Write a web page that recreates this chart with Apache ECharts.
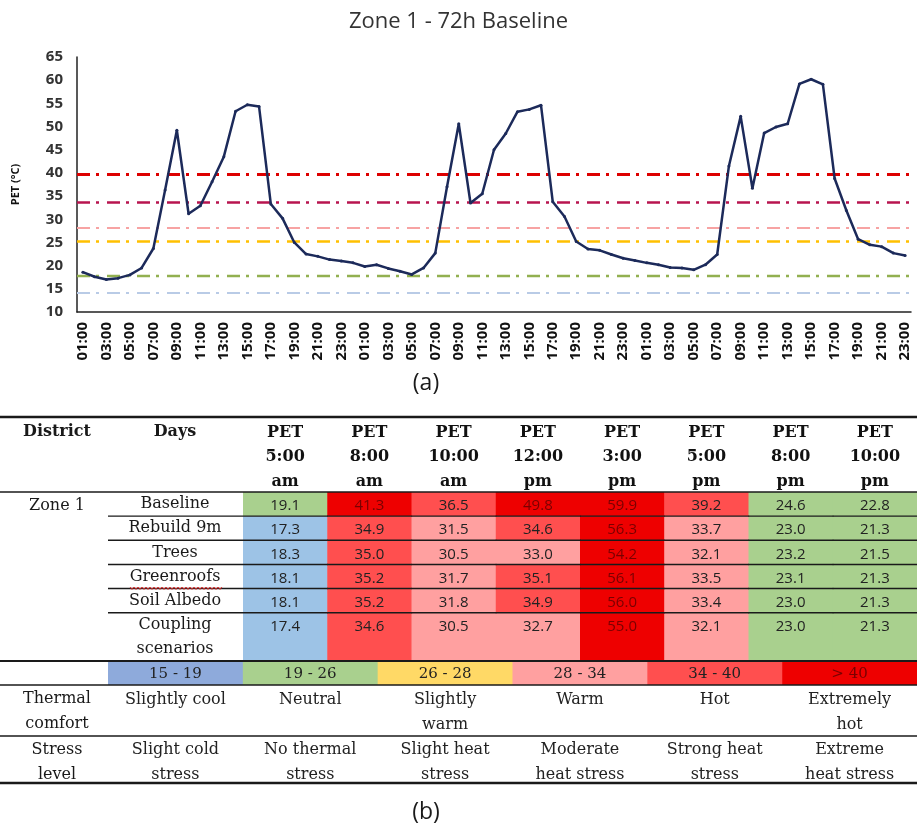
<!DOCTYPE html>
<html>
<head>
<meta charset="utf-8">
<title>Zone 1 - 72h Baseline</title>
<script src="https://cdn.jsdelivr.net/npm/echarts@6/dist/echarts.min.js"></script>
<style>
  html, body { margin: 0; padding: 0; background: #fff; }
  #chart { width: 917px; height: 828px; }
</style>
</head>
<body>
<div id="chart"></div>
<script>
// ---- data: hourly PET (°C), 72h baseline ----
const hours = ['01:00', '02:00', '03:00', '04:00', '05:00', '06:00', '07:00', '08:00',
  '09:00', '10:00', '11:00', '12:00', '13:00', '14:00', '15:00', '16:00', '17:00', '18:00',
  '19:00', '20:00', '21:00', '22:00', '23:00', '24:00'];
const times = hours.concat(hours, hours).slice(0, 71);

const pet = [
  18.6, 17.6, 17.0, 17.3, 18.0, 19.5, 23.7, 36.3, 49.2, 31.2, 32.9, 38.1, 43.5, 53.3, 54.7, 54.3,
  33.3, 30.2, 25.0, 22.5, 22.0, 21.3, 21.0, 20.6,
  19.8, 20.2, 19.4, 18.8, 18.1, 19.5, 22.7, 37.0, 50.6, 33.5, 35.5, 45.0, 48.5, 53.2, 53.7, 54.6,
  33.8, 30.6, 25.2, 23.6, 23.3, 22.4, 21.6, 21.1,
  20.6, 20.2, 19.6, 19.5, 19.1, 20.2, 22.4, 41.5, 52.2, 36.7, 48.6, 49.9, 50.6, 59.2, 60.2, 59.1,
  38.8, 31.9, 25.7, 24.5, 24.1, 22.7, 22.2
];

// comfort thresholds drawn as dash-dot lines
const thresholds = [39.8, 33.7, 28.1, 25.3, 17.9, 14.1];

// ---- data: table (b) ----
const district = 'Zone 1';
const petTimes = ['PET\n5:00\nam', 'PET\n8:00\nam', 'PET\n10:00\nam', 'PET\n12:00\npm',
  'PET\n3:00\npm', 'PET\n5:00\npm', 'PET\n8:00\npm', 'PET\n10:00\npm'];
const scenarios = ['Baseline', 'Rebuild 9m', 'Trees', 'Greenroofs', 'Soil Albedo', 'Coupling scenarios'];
const baseline   = [19.1, 41.3, 36.5, 49.8, 59.9, 39.2, 24.6, 22.8];
const rebuild9m  = [17.3, 34.9, 31.5, 34.6, 56.3, 33.7, 23.0, 21.3];
const trees      = [18.3, 35.0, 30.5, 33.0, 54.2, 32.1, 23.2, 21.5];
const greenroofs = [18.1, 35.2, 31.7, 35.1, 56.1, 33.5, 23.1, 21.3];
const soilAlbedo = [18.1, 35.2, 31.8, 34.9, 56.0, 33.4, 23.0, 21.3];
const coupling   = [17.4, 34.6, 30.5, 32.7, 55.0, 32.1, 23.0, 21.3];
const tableRows = [baseline, rebuild9m, trees, greenroofs, soilAlbedo, coupling];

const binEdges = [15, 19, 26, 28, 34, 40];
const ranges = ['15 - 19', '19 - 26', '26 - 28', '28 - 34', '34 - 40', '> 40'];
const comfort = ['Slightly cool', 'Neutral', 'Slightly\nwarm', 'Warm', 'Hot', 'Extremely\nhot'];
const stress = ['Slight cold\nstress', 'No thermal\nstress', 'Slight heat\nstress',
  'Moderate\nheat stress', 'Strong heat\nstress', 'Extreme\nheat stress'];

// ---- styles / layout ----
const lineColor = '#1c2a5a';
const threshColors = ['#dd0000', '#b8144f', '#f7a3a3', '#ffc000', '#92b050', '#b9cbe6'];
const threshWidths = [3, 2.6, 2, 2.6, 2.4, 2];
const tableColors = ['#9dc3e6', '#a9d08e', '#ffd966', '#ffa0a0', '#ff4f4f', '#ee0000'];
const legendColors = ['#8eaadb', '#a9d08e', '#ffd966', '#ffa0a0', '#ff4f4f', '#ee0000'];
const serif = '"DejaVu Serif", serif';
const sans = '"Open Sans", sans-serif';

const W = 917;
const TABLE_TOP = 417, HEAD_BOTTOM = 492, BODY_BOTTOM = 661;
const LEGEND_BOTTOM = 685, COMFORT_BOTTOM = 736, TABLE_BOTTOM = 783;
const CELLS_LEFT = 243, DAYS_LEFT = 108, FIRST_COL_X = 57, DAYS_X = 175;

const tableData = [];
tableRows.forEach((vals, r) => vals.forEach((v, c) => tableData.push([c, r, v])));

const pieces = binEdges.map((lo, i) => {
  const p = { gte: lo, color: tableColors[i] };
  if (i < binEdges.length - 1) p.lt = binEdges[i + 1];
  return p;
});

function rule(y, w) {
  return { type: 'line', z: 100, shape: { x1: 0, y1: y, x2: W, y2: y },
    style: { stroke: '#1a1a1a', lineWidth: w } };
}
function label(text, x, y, font, valign) {
  return { type: 'text', z: 100, x: x, y: y,
    style: { text: text, font: font, fill: '#1a1a1a', align: 'center',
      verticalAlign: valign || 'middle', lineHeight: 25 } };
}
// red spell-check squiggle under a word of the table
function squiggle(x1, x2, y) {
  const pts = [];
  for (let x = x1, k = 0; x <= x2; x += 2, k++) pts.push([x, y + (k % 2 ? 1.5 : -1)]);
  return { type: 'polyline', z: 100, shape: { points: pts }, style: { stroke: '#e03030', lineWidth: 1, fill: null } };
}

const chart = echarts.init(document.getElementById('chart'));
chart.setOption({
  animation: false,
  backgroundColor: '#fff',
  title: {
    text: 'Zone 1 - 72h Baseline', left: 'center', top: 6,
    textStyle: { fontFamily: sans, fontSize: 22, fontWeight: 'normal', color: '#333' }
  },
  grid: [
    { left: 77, right: 6, top: 57, height: 255 },
    { left: CELLS_LEFT, right: 0, top: HEAD_BOTTOM, height: BODY_BOTTOM - HEAD_BOTTOM },
    { left: DAYS_LEFT, right: 0, top: BODY_BOTTOM, height: LEGEND_BOTTOM - BODY_BOTTOM }
  ],
  xAxis: [
    {
      gridIndex: 0, type: 'category', data: times, boundaryGap: true,
      axisLine: { lineStyle: { color: '#222', width: 1.5 } },
      axisTick: { show: false },
      axisLabel: { interval: 1, rotate: 90, margin: 10, fontFamily: sans, fontWeight: 'bold', fontSize: 15, color: '#111' }
    },
    {
      gridIndex: 1, type: 'category', position: 'top', data: petTimes,
      axisLine: { show: false }, axisTick: { show: false },
      axisLabel: { interval: 0, margin: -2, lineHeight: 24.5, fontFamily: serif, fontWeight: 'bold', fontSize: 16, color: '#111' }
    },
    { gridIndex: 2, type: 'category', data: ranges, show: false },
    {
      gridIndex: 2, type: 'category', position: 'bottom', data: comfort,
      axisLine: { show: false }, axisTick: { show: false },
      axisLabel: { interval: 0, margin: 2, lineHeight: 25, fontFamily: serif, fontSize: 16, color: '#222' }
    },
    {
      gridIndex: 2, type: 'category', position: 'bottom', offset: COMFORT_BOTTOM - LEGEND_BOTTOM, data: stress,
      axisLine: { show: false }, axisTick: { show: false },
      axisLabel: { interval: 0, margin: 1, lineHeight: 25, fontFamily: serif, fontSize: 16, color: '#222' }
    }
  ],
  yAxis: [
    {
      gridIndex: 0, type: 'value', min: 10, max: 65, interval: 5,
      name: 'PET (°C)', nameLocation: 'middle', nameGap: 56, nameRotate: 90,
      nameTextStyle: { fontFamily: sans, fontWeight: 'bold', fontSize: 11, color: '#111' },
      axisLine: { show: true, lineStyle: { color: '#222', width: 1.5 } },
      axisTick: { show: false }, splitLine: { show: false },
      axisLabel: { margin: 14, fontFamily: sans, fontWeight: 'bold', fontSize: 15, color: '#333' }
    },
    {
      gridIndex: 1, type: 'category', inverse: true, data: scenarios.concat(['']),
      axisLine: { show: false }, axisTick: { show: false },
      axisLabel: {
        interval: 0, align: 'center', margin: CELLS_LEFT - DAYS_X,
        fontFamily: serif, fontSize: 16, color: '#1a1a1a', padding: [3, 0, 0, 0],
        // last scenario label wraps over two row bands
        formatter: (v, i) => {
          const last = scenarios.length - 1;
          if (i === last) return v.split(' ')[0];
          if (i === last + 1) return scenarios[last].split(' ').slice(1).join(' ');
          return v;
        }
      }
    },
    { gridIndex: 2, type: 'category', data: [''], show: false }
  ],
  visualMap: {
    type: 'piecewise', show: false, seriesIndex: 1, dimension: 2, pieces: pieces
  },
  series: [
    {
      type: 'line', xAxisIndex: 0, yAxisIndex: 0, data: pet, z: 3,
      symbol: 'circle', symbolSize: 3, showSymbol: true,
      itemStyle: { color: lineColor },
      lineStyle: { color: lineColor, width: 2.5 },
      markLine: {
        silent: true, symbol: 'none', z: 1, label: { show: false },
        data: thresholds.map((v, i) => ({
          yAxis: v,
          lineStyle: { color: threshColors[i], width: threshWidths[i], type: [13, 6, 3, 8] }
        }))
      }
    },
    {
      type: 'custom', xAxisIndex: 1, yAxisIndex: 1, data: tableData,
      renderItem: (params, api) => {
        const c = api.value(0), r = api.value(1), v = api.value(2);
        const p = api.coord([c, r]);
        const s = api.size([1, 1]);
        const span = r === scenarios.length - 1 ? 2 : 1;
        const x0 = p[0] - s[0] / 2, y0 = p[1] - s[1] / 2;
        const children = [
          { type: 'rect', shape: { x: x0, y: y0, width: s[0] + 0.6, height: s[1] * span + 0.4 },
            style: { fill: api.visual('color') } },
          { type: 'text', x: p[0], y: p[1] + 2,
            style: { text: v.toFixed(1), font: '15px ' + sans, fill: v >= 40 ? '#7a0000' : '#222',
              align: 'center', verticalAlign: 'middle' } }
        ];
        if (r > 0) {
          children.push({ type: 'line', z2: 10,
            shape: { x1: c === 0 ? DAYS_LEFT : x0, y1: y0, x2: x0 + s[0] + 0.6, y2: y0 },
            style: { stroke: '#1a1a1a', lineWidth: 1.4 } });
        }
        return { type: 'group', children: children };
      }
    },
    {
      type: 'custom', xAxisIndex: 2, yAxisIndex: 2, data: ranges.map((t, i) => [i, 0]),
      renderItem: (params, api) => {
        const i = api.value(0);
        const p = api.coord([i, 0]);
        const s = api.size([1, 1]);
        return { type: 'group', children: [
          { type: 'rect', shape: { x: p[0] - s[0] / 2, y: p[1] - s[1] / 2, width: s[0] + 0.6, height: s[1] },
            style: { fill: legendColors[i] } },
          { type: 'text', x: p[0], y: p[1] + 1,
            style: { text: ranges[i], font: '15px ' + serif, fill: i === ranges.length - 1 ? '#7a0000' : '#222',
              align: 'center', verticalAlign: 'middle' } }
        ] };
      }
    }
  ],
  graphic: [
    label('(a)', 426, 383, '23px ' + sans),
    label('(b)', 426, 812, '23px ' + sans),
    label('District', FIRST_COL_X, 432, 'bold 16px ' + serif),
    label('Days', DAYS_X, 432, 'bold 16px ' + serif),
    label(district, FIRST_COL_X, 506, '16px ' + serif),
    label('Thermal\ncomfort', FIRST_COL_X, LEGEND_BOTTOM + 1.5, '16px ' + serif, 'top'),
    label('Stress\nlevel', FIRST_COL_X, COMFORT_BOTTOM + 1, '16px ' + serif, 'top'),
    squiggle(130, 222, 588),
    rule(TABLE_TOP, 2.5),
    rule(HEAD_BOTTOM, 1.5),
    rule(BODY_BOTTOM, 2),
    rule(LEGEND_BOTTOM, 1.5),
    rule(COMFORT_BOTTOM, 1.5),
    rule(TABLE_BOTTOM, 2.5)
  ]
});
</script>
</body>
</html>
